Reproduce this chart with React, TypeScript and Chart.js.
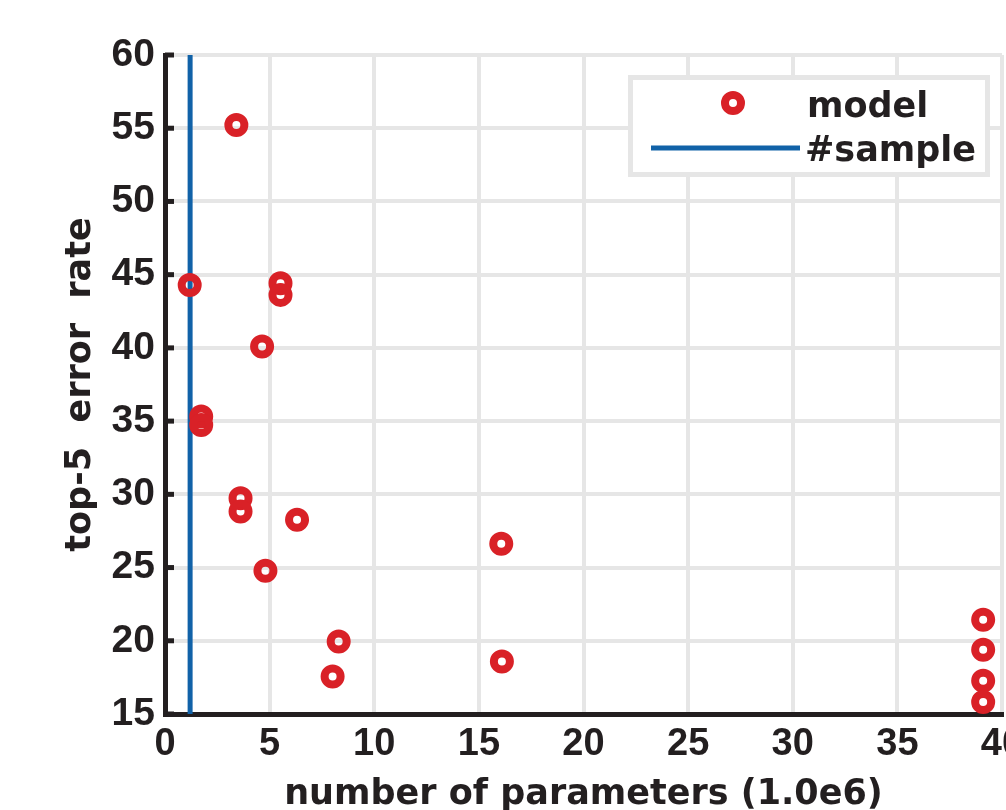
import { useEffect, useRef } from "react";
import { Chart, registerables } from "chart.js";

Chart.register(...registerables);

// ---- data ----
const modelParams = [3.41, 1.18, 5.52, 5.52, 4.64, 1.73, 1.73, 3.61, 3.61, 6.31, 4.8, 16.07, 8.3, 8.01, 16.1, 39.1, 39.1, 39.1, 39.1];
const modelError = [55.22, 44.3, 44.42, 43.62, 40.09, 35.31, 34.74, 29.74, 28.83, 28.26, 24.78, 26.62, 19.95, 17.56, 18.59, 21.43, 19.39, 17.27, 15.82];
const sampleParams = [1.2, 1.2];
const sampleError = [15, 60];
const xTicks = [0, 5, 10, 15, 20, 25, 30, 35, 40];
const yTicks = [15, 20, 25, 30, 35, 40, 45, 50, 55, 60];
const seriesLabels = ["model", "#sample"];

const RED = "#d92127";
const BLUE = "#1162a8";
const INK = "#231f20";
const GRID = "#e6e6e6";
const TITLE_FONT = "'DejaVu Sans'";
const TICK_FONT = "'Liberation Sans'";

const CANVAS_W = 1060;
const CANVAS_H = 810;

const yTickMarks = {
  id: "yTickMarks",
  afterDatasetsDraw(chart: any) {
    const { ctx, chartArea } = chart;
    const ys = chart.scales.y;
    ctx.save();
    ctx.strokeStyle = INK;
    ctx.lineWidth = 5;
    ys.ticks.forEach((t: any) => {
      const py = ys.getPixelForValue(t.value);
      ctx.beginPath();
      ctx.moveTo(chartArea.left, py);
      ctx.lineTo(chartArea.left + 9, py);
      ctx.stroke();
    });
    ctx.restore();
  },
};

const boxLegend = {
  id: "boxLegend",
  afterDraw(chart: any) {
    const { ctx } = chart;
    const ds = chart.data.datasets;
    ctx.save();
    ctx.fillStyle = "#ffffff";
    ctx.fillRect(630.5, 77.5, 357, 97);
    ctx.strokeStyle = GRID;
    ctx.lineWidth = 5;
    ctx.strokeRect(630.5, 77.5, 357, 97);
    ctx.beginPath();
    ctx.arc(733, 103, ds[0].pointRadius, 0, Math.PI * 2);
    ctx.strokeStyle = ds[0].borderColor;
    ctx.lineWidth = ds[0].borderWidth;
    ctx.stroke();
    ctx.beginPath();
    ctx.moveTo(651, 148);
    ctx.lineTo(800, 148);
    ctx.strokeStyle = ds[1].borderColor;
    ctx.lineWidth = ds[1].borderWidth;
    ctx.stroke();
    ctx.fillStyle = INK;
    ctx.font = `bold 35px ${TITLE_FONT}`;
    ctx.textAlign = "left";
    ctx.textBaseline = "alphabetic";
    ctx.fillText(ds[0].label, 807, 117);
    ctx.fillText(ds[1].label, 805, 161);
    ctx.restore();
  },
};

export default function App() {
  const ref = useRef<HTMLCanvasElement | null>(null);

  useEffect(() => {
    if (!ref.current) return;
    const chart = new Chart(ref.current, {
      type: "scatter",
      data: {
        datasets: [
          {
            label: seriesLabels[0],
            data: modelParams.map((x, i) => ({ x, y: modelError[i] })),
            pointStyle: "circle",
            pointRadius: 8,
            pointHoverRadius: 8,
            borderWidth: 8,
            borderColor: RED,
            backgroundColor: "rgba(0,0,0,0)",
            showLine: false,
            clip: false,
          } as any,
          {
            label: seriesLabels[1],
            data: sampleParams.map((x, i) => ({ x, y: sampleError[i] })),
            showLine: true,
            pointRadius: 0,
            borderWidth: 5,
            borderColor: BLUE,
            backgroundColor: BLUE,
            clip: false,
          } as any,
        ],
      },
      options: {
        responsive: false,
        animation: false,
        devicePixelRatio: 1,
        layout: { padding: { left: 0, top: 55, right: CANVAS_W - 1002, bottom: 0 } },
        plugins: { legend: { display: false }, tooltip: { enabled: false } },
        scales: {
          x: {
            type: "linear",
            min: 0,
            max: 40,
            afterBuildTicks: (s: any) => {
              s.ticks = xTicks.map((v) => ({ value: v }));
            },
            afterFit: (s: any) => {
              s.height = CANVAS_H - 714;
            },
            grid: { color: GRID, lineWidth: 4, drawTicks: false },
            border: { display: true, color: INK, width: 5 },
            ticks: {
              color: INK,
              padding: 12,
              maxRotation: 0,
              autoSkip: false,
              font: { family: TICK_FONT, size: 38, weight: "bold", lineHeight: 1 },
            },
            title: {
              display: true,
              text: "number of parameters (1.0e6)",
              color: INK,
              padding: { top: 0, bottom: 0 },
              font: { family: TITLE_FONT, size: 35, weight: "bold", lineHeight: 30 / 35 },
            },
          },
          y: {
            type: "linear",
            min: 15,
            max: 60,
            afterBuildTicks: (s: any) => {
              s.ticks = yTicks.map((v) => ({ value: v }));
            },
            afterFit: (s: any) => {
              s.width = 165;
            },
            grid: { color: GRID, lineWidth: 4, drawTicks: false },
            border: { display: true, color: INK, width: 5 },
            ticks: {
              color: INK,
              padding: 10,
              autoSkip: false,
              font: { family: TICK_FONT, size: 39, weight: "bold" },
            },
            title: {
              display: true,
              text: "top-5  error  rate",
              color: INK,
              padding: { top: 63, bottom: 0 },
              font: { family: TITLE_FONT, size: 35, weight: "bold", lineHeight: 1 },
            },
          },
        },
      } as any,
      plugins: [yTickMarks, boxLegend],
    });
    return () => chart.destroy();
  }, []);

  return (
    <div
      style={{
        position: "fixed",
        left: 0,
        top: 0,
        width: 1006,
        height: 810,
        overflow: "hidden",
        background: "#ffffff",
      }}
    >
      <canvas ref={ref} width={CANVAS_W} height={CANVAS_H} style={{ display: "block" }} />
    </div>
  );
}
